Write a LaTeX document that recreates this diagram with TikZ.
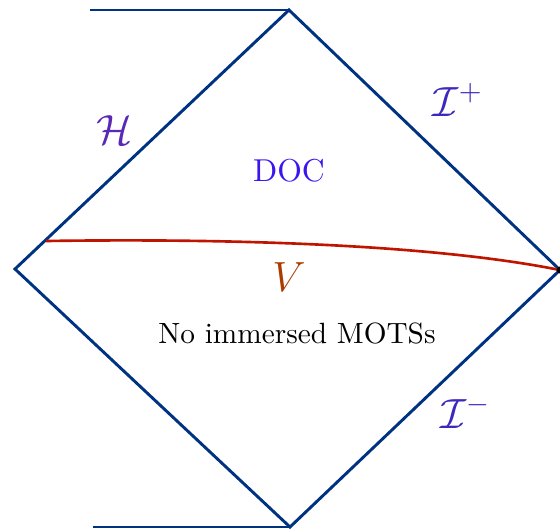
\documentclass[tikz,border=0pt]{standalone}
\usepackage{tikz}
\usetikzlibrary{positioning, calc}
\definecolor{edgeblue}{RGB}{0,50,130}
\definecolor{horpurple}{RGB}{90,40,180}
\definecolor{scriblue}{RGB}{60,40,190}
\definecolor{docblue}{RGB}{60,20,240}
\definecolor{vbrown}{RGB}{170,60,0}
\definecolor{curvered}{RGB}{190,20,0}
\tikzset{
  edge/.style={draw=edgeblue, line width=1pt},
  slice/.style={draw=curvered, line width=0.9pt},
  lbl/.style={font=\Large},
}

\begin{document}
\begin{tikzpicture}[x=0.012cm, y=-0.012cm]
    \useasboundingbox (0,0) rectangle (560,531);
    \coordinate (top) at (289,10);
    \coordinate (left) at (15,269);
    \coordinate (right) at (560,270);
    \coordinate (bot) at (290,527);
    \coordinate (topend) at (90,10);
    \coordinate (botend) at (93,527);
    \coordinate (vstart) at (46,241);
    \draw[edge] (top) -- (right) -- (bot) -- (left) -- cycle;
    \draw[edge] (topend) -- (top);
    \draw[edge] (botend) -- (bot);
    \draw[slice] (vstart) .. controls (250,238) and (440,246) .. (right);
    \fill (right) circle (1.2pt);
    \node[lbl, text=horpurple] (hor) at (115,130) {$\mathcal{H}$};
    \node[lbl, text=scriblue] (scrip) at (458,100) {$\mathcal{I}^+$};
    \node[lbl, text=scriblue] (scrim) at (466,412) {$\mathcal{I}^-$};
    \node[text=docblue, font=\fontsize{10.8}{13}\selectfont] (doc) at (289,171) {DOC};
    \node[lbl, text=vbrown] (vlab) at (289,277) {$V$};
    \node (nomots) at (297,333) {No immersed MOTSs};
\end{tikzpicture}
\end{document}
